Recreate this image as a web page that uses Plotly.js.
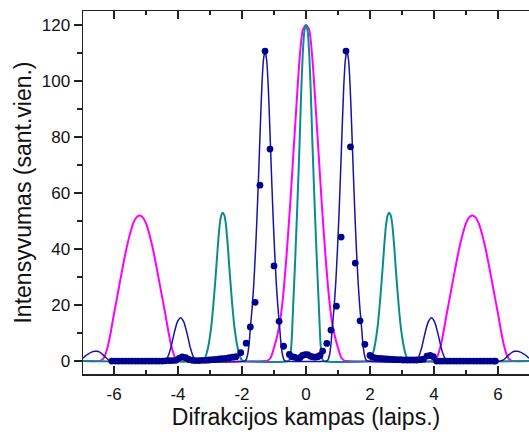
<!DOCTYPE html>
<html>
<head>
<meta charset="utf-8">
<script src="https://cdn.plot.ly/plotly-3.0.1.min.js"></script>
<style>html,body{margin:0;padding:0;background:#fff;}#chart{width:529px;height:435px;}</style>
</head>
<body>
<div id="chart"></div>
<script>
// Magenta calculated curve (peaks at 0 and ±5.2)
const magentaX = [-6.97,-6.5,-6.4,-6.3,-6.2,-6.1,-6.0,-5.9,-5.8,-5.7,-5.6,-5.5,-5.4,-5.3,-5.2,-5.1,-5.0,-4.9,-4.8,-4.7,-4.6,-4.5,-4.4,-4.3,-4.2,-4.1,-4.0,-3.9,
  -1.3,-1.2,-1.1,-1.0,-0.9,-0.8,-0.7,-0.6,-0.5,-0.4,-0.3,-0.2,-0.1,0,0.1,0.2,0.3,0.4,0.5,0.6,0.7,0.8,0.9,1.0,1.1,1.2,1.3,
  3.9,4.0,4.1,4.2,4.3,4.4,4.5,4.6,4.7,4.8,4.9,5.0,5.1,5.2,5.3,5.4,5.5,5.6,5.7,5.8,5.9,6.0,6.1,6.2,6.3,6.4,6.5,6.97];
const magentaY = [0,0,0.3,1.5,5,10.5,17,23,29.2,35.2,40.8,45.5,49.2,51.3,52,51.3,49.2,45.5,40.8,35.2,29.2,23,17,10.5,5,1.5,0.3,0,
  0,0.2,1.3,4.8,9,15,25,39,55,73,91,108,118.3,120,118.3,108,91,73,55,39,25,15,9,4.8,1.3,0.2,0,
  0,0.3,1.5,5,10.5,17,23,29.2,35.2,40.8,45.5,49.2,51.3,52,51.3,49.2,45.5,40.8,35.2,29.2,23,17,10.5,5,1.5,0.3,0,0];

// Teal calculated curve (peaks at 0 and ±2.6)
const tealX = [-6.97,-3.25,-3.2,-3.15,-3.1,-3.05,-3.0,-2.95,-2.9,-2.85,-2.8,-2.75,-2.7,-2.65,-2.6,-2.55,-2.5,-2.45,-2.4,-2.35,-2.3,-2.25,-2.2,-2.15,-2.1,-2.05,-2.0,-1.95,
  -0.55,-0.5,-0.45,-0.4,-0.35,-0.3,-0.25,-0.2,-0.15,-0.1,-0.05,0,0.05,0.1,0.15,0.2,0.25,0.3,0.35,0.4,0.45,0.5,0.55,
  1.95,2.0,2.05,2.1,2.15,2.2,2.25,2.3,2.35,2.4,2.45,2.5,2.55,2.6,2.65,2.7,2.75,2.8,2.85,2.9,2.95,3.0,3.05,3.1,3.15,3.2,3.25,6.97];
const tealY = [0,0,0.3,1.2,3,5.5,9,13.5,19.5,26.5,34,42,48.5,52,53,52,48.5,42,34,26.5,19.5,13.5,9,5.5,3,1.2,0.3,0,
  0,1,7,20,33,47,62,78,96,110,118,120,118,110,96,78,62,47,33,20,7,1,0,
  0,0.3,1.2,3,5.5,9,13.5,19.5,26.5,34,42,48.5,52,53,52,48.5,42,34,26.5,19.5,13.5,9,5.5,3,1.2,0.3,0,0];

// Navy calculated curve (peaks at ±1.28, ±3.92, ±6.53)
const navyX = [-6.97,-6.9,-6.8,-6.7,-6.6,-6.53,-6.45,-6.35,-6.25,-6.15,-6.05,
  -4.42,-4.32,-4.22,-4.12,-4.02,-3.92,-3.82,-3.72,-3.62,-3.52,-3.42,
  -1.93,-1.88,-1.83,-1.78,-1.73,-1.68,-1.63,-1.58,-1.53,-1.48,-1.43,-1.38,-1.33,-1.28,-1.23,-1.18,-1.13,-1.08,-1.03,-0.98,-0.93,-0.88,-0.83,-0.78,-0.73,-0.68,-0.63,
  0.63,0.68,0.73,0.78,0.83,0.88,0.93,0.98,1.03,1.08,1.13,1.18,1.23,1.28,1.33,1.38,1.43,1.48,1.53,1.58,1.63,1.68,1.73,1.78,1.83,1.88,1.93,
  3.42,3.52,3.62,3.72,3.82,3.92,4.02,4.12,4.22,4.32,4.42,
  6.05,6.15,6.25,6.35,6.45,6.53,6.6,6.7,6.8,6.9,6.97];
const navyY = [1.0,1.8,2.6,3.2,3.5,3.5,3.2,2.3,1.2,0.3,0,
  0,1.5,5,10,14,15.5,14,10,5,1.5,0,
  0,0.3,2,6,13,19.5,28,39,52,67,83,98,107.5,110.7,107.5,98,83,67,52,39,28,19.5,13,6,2,0.3,0,
  0,0.3,2,6,13,19.5,28,39,52,67,83,98,107.5,110.7,107.5,98,83,67,52,39,28,19.5,13,6,2,0.3,0,
  0,1.5,5,10,14,15.5,14,10,5,1.5,0,
  0,0.3,1.2,2.3,3.2,3.5,3.5,3.2,2.6,1.8,1.0];

// Measured points
const dotsX = [-6.07,-5.96,-5.86,-5.75,-5.65,-5.54,-5.44,-5.33,-5.23,-5.12,-5.02,-4.91,-4.81,-4.70,-4.60,-4.49,-4.39,-4.28,-4.18,-4.07,
  -3.97,-3.87,-3.76,-3.66,-3.55,-3.45,-3.34,-3.24,-3.13,-3.03,-2.92,-2.82,-2.71,-2.61,-2.50,-2.40,-2.29,-2.19,
  -2.04,-1.87,-1.74,-1.59,-1.44,-1.28,-1.125,-1.0,-0.84,-0.70,-0.52,
  -0.44,-0.36,-0.27,-0.19,-0.11,-0.03,0.05,0.13,0.21,0.29,0.37,0.44,
  0.52,0.65,0.78,0.95,1.10,1.25,1.39,1.54,1.69,1.84,2.0,
  2.10,2.20,2.31,2.41,2.52,2.62,2.73,2.83,2.94,3.04,3.15,3.25,3.36,3.46,3.57,3.67,3.78,3.88,3.98,
  4.08,4.19,4.29,4.40,4.50,4.61,4.71,4.82,4.92,5.03,5.13,5.24,5.34,5.45,5.55,5.66,5.76,5.87,5.92];
const dotsY = [0,0,0,0,0,0,0,0,0,0,0,0,0,0,0,0,0.1,0.2,0.2,0.3,
  1.0,1.5,1.2,0.6,0.3,0.2,0.2,0.3,0.3,0.4,0.5,0.6,0.8,0.9,1.0,1.2,1.4,1.6,
  3.0,6.4,12.2,21,62.8,110.7,75.7,34,14.2,5.3,2.4,
  1.6,1.4,1.0,1.2,2.0,2.3,2.3,1.8,1.5,1.4,1.6,2.0,
  3.6,6.3,11.1,19.6,44.3,110.7,76.5,35,14.4,6.0,2.0,
  1.3,1.1,1.0,0.9,0.8,0.7,0.6,0.5,0.5,0.4,0.4,0.4,0.4,0.4,0.5,0.7,1.8,2.0,1.6,
  0,0,0,0,0,0,0,0,0,0,0,0,0,0,0,0,0,0,0];

const xTickVals = [-6,-4,-2,0,2,4,6];
const xTickText = ['-6','-4','-2','0','2','4','6'];
const xMinorVals = [-5,-3,-1,1,3,5];
const yTickVals = [0,20,40,60,80,100,120];
const yTickText = ['0','20','40','60','80','100','120'];
const yMinorVals = [10,30,50,70,90,110];

const xTitle = 'Difrakcijos kampas (laips.)';
const yTitle = 'Intensyvumas (sant.vien.)';

const FONT = 'Liberation Sans, Arial, sans-serif';
const AX = '#222222';

const traces = [
  {x: magentaX, y: magentaY, type: 'scatter', mode: 'lines', line: {color: '#FF00FF', width: 2, shape: 'spline', smoothing: 0.6}, hoverinfo: 'skip'},
  {x: tealX, y: tealY, type: 'scatter', mode: 'lines', line: {color: '#0B8C8C', width: 2, shape: 'spline', smoothing: 0.6}, hoverinfo: 'skip'},
  {x: navyX, y: navyY, type: 'scatter', mode: 'lines', line: {color: '#1515A5', width: 1.5, shape: 'spline', smoothing: 0.6}, hoverinfo: 'skip'},
  {x: dotsX, y: dotsY, type: 'scatter', mode: 'markers', marker: {color: '#00008E', size: 6.8}, hoverinfo: 'skip'}
];

const layout = {
  width: 529, height: 435,
  margin: {l: 83, r: 0, t: 11, b: 61},
  paper_bgcolor: '#ffffff', plot_bgcolor: '#ffffff',
  showlegend: false,
  font: {family: FONT, color: '#111111'},
  xaxis: {
    range: [-6.97, 6.97], tickmode: 'array', tickvals: xTickVals, ticktext: xTickText,
    ticks: 'inside', ticklen: 8, tickwidth: 1.5, tickcolor: AX,
    minor: {tickmode: 'array', tickvals: xMinorVals, ticks: 'inside', ticklen: 4, tickwidth: 1.5, tickcolor: AX},
    showline: true, linewidth: 1.5, linecolor: AX, mirror: 'allticks',
    showgrid: false, zeroline: false, ticklabelstandoff: 4,
    tickfont: {family: FONT, size: 17, color: '#111111'},
    title: {text: xTitle, font: {family: FONT, size: 23, color: '#111111'}, standoff: 6}
  },
  yaxis: {
    range: [-4.6, 125], tickmode: 'array', tickvals: yTickVals, ticktext: yTickText,
    ticks: 'outside', ticklen: 8, tickwidth: 1.5, tickcolor: AX,
    minor: {tickmode: 'array', tickvals: yMinorVals, ticks: 'outside', ticklen: 5, tickwidth: 1.5, tickcolor: AX},
    showline: true, linewidth: 1.5, linecolor: AX,
    showgrid: false, zeroline: false,
    tickfont: {family: FONT, size: 17, color: '#111111'},
    title: {text: yTitle, font: {family: FONT, size: 23, color: '#111111'}, standoff: 3}
  },
  yaxis2: {
    overlaying: 'y', side: 'right', anchor: 'x',
    range: [-4.6, 125], tickmode: 'array', tickvals: yTickVals,
    ticks: 'inside', ticklen: 9, tickwidth: 1.5, tickcolor: AX,
    minor: {tickmode: 'array', tickvals: yMinorVals, ticks: 'inside', ticklen: 5, tickwidth: 1.5, tickcolor: AX},
    showticklabels: false, showline: false, showgrid: false, zeroline: false
  }
};

Plotly.newPlot('chart', traces, layout, {staticPlot: true, displayModeBar: false});
</script>
</body>
</html>
